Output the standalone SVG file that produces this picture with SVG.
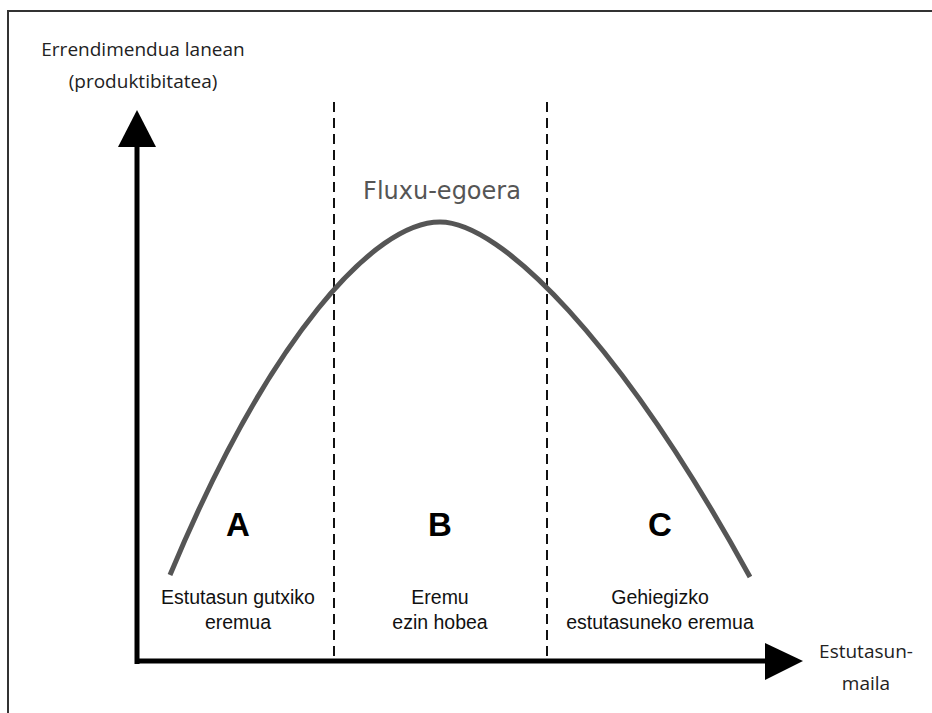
<svg xmlns="http://www.w3.org/2000/svg" width="932" height="713" viewBox="0 0 932 713">
<style>
.cal{font-family:"Open Sans","Liberation Sans",sans-serif;font-size:19px;fill:#222}
.ar{font-family:"Liberation Sans",Arial,sans-serif;font-size:19.5px;fill:#111}
.big{font-family:"Liberation Sans",Arial,sans-serif;font-size:33px;font-weight:bold;fill:#000}
.dash{stroke:#111;stroke-width:2;stroke-dasharray:10 6;fill:none}
</style>
<rect x="8" y="11" width="940" height="720" fill="#fff" stroke="#333" stroke-width="2"/>
<g id="connectors">
<line x1="137" y1="664" x2="137" y2="140" stroke="#000" stroke-width="5"/>
<polygon points="137,110 118,147 156,147" fill="#000"/>
<line x1="135" y1="661" x2="770" y2="661" stroke="#000" stroke-width="5"/>
<polygon points="803,661 765,643 765,680" fill="#000"/>
<line class="dash" x1="334" y1="102" x2="334" y2="661"/>
<line class="dash" x1="547" y1="102" x2="547" y2="661"/>
<path d="M170,575 C270,335 375,222 440,222 C500,222 620,340 750,577" fill="none" stroke="#555" stroke-width="5"/>
</g>
<g id="ylabel">
<text class="cal" x="143" y="56" text-anchor="middle">Errendimendua lanean</text>
<text class="cal" x="143" y="88" text-anchor="middle">(produktibitatea)</text>
</g>
<g id="xlabel">
<text class="cal" x="866" y="658" text-anchor="middle">Estutasun-</text>
<text class="cal" x="866" y="690" text-anchor="middle">maila</text>
</g>
<g id="flux">
<text x="442" y="199" text-anchor="middle" style="font-family:'DejaVu Sans',sans-serif;font-size:24px;fill:#555">Fluxu-egoera</text>
</g>
<g id="zoneA">
<text class="big" x="238" y="536" text-anchor="middle">A</text>
<text class="ar" x="238" y="604" text-anchor="middle">Estutasun gutxiko</text>
<text class="ar" x="238" y="629" text-anchor="middle">eremua</text>
</g>
<g id="zoneB">
<text class="big" x="440" y="536" text-anchor="middle">B</text>
<text class="ar" x="440" y="604" text-anchor="middle">Eremu</text>
<text class="ar" x="440" y="629" text-anchor="middle">ezin hobea</text>
</g>
<g id="zoneC">
<text class="big" x="660" y="536" text-anchor="middle">C</text>
<text class="ar" x="660" y="604" text-anchor="middle">Gehiegizko</text>
<text class="ar" x="660" y="629" text-anchor="middle">estutasuneko eremua</text>
</g>
</svg>
